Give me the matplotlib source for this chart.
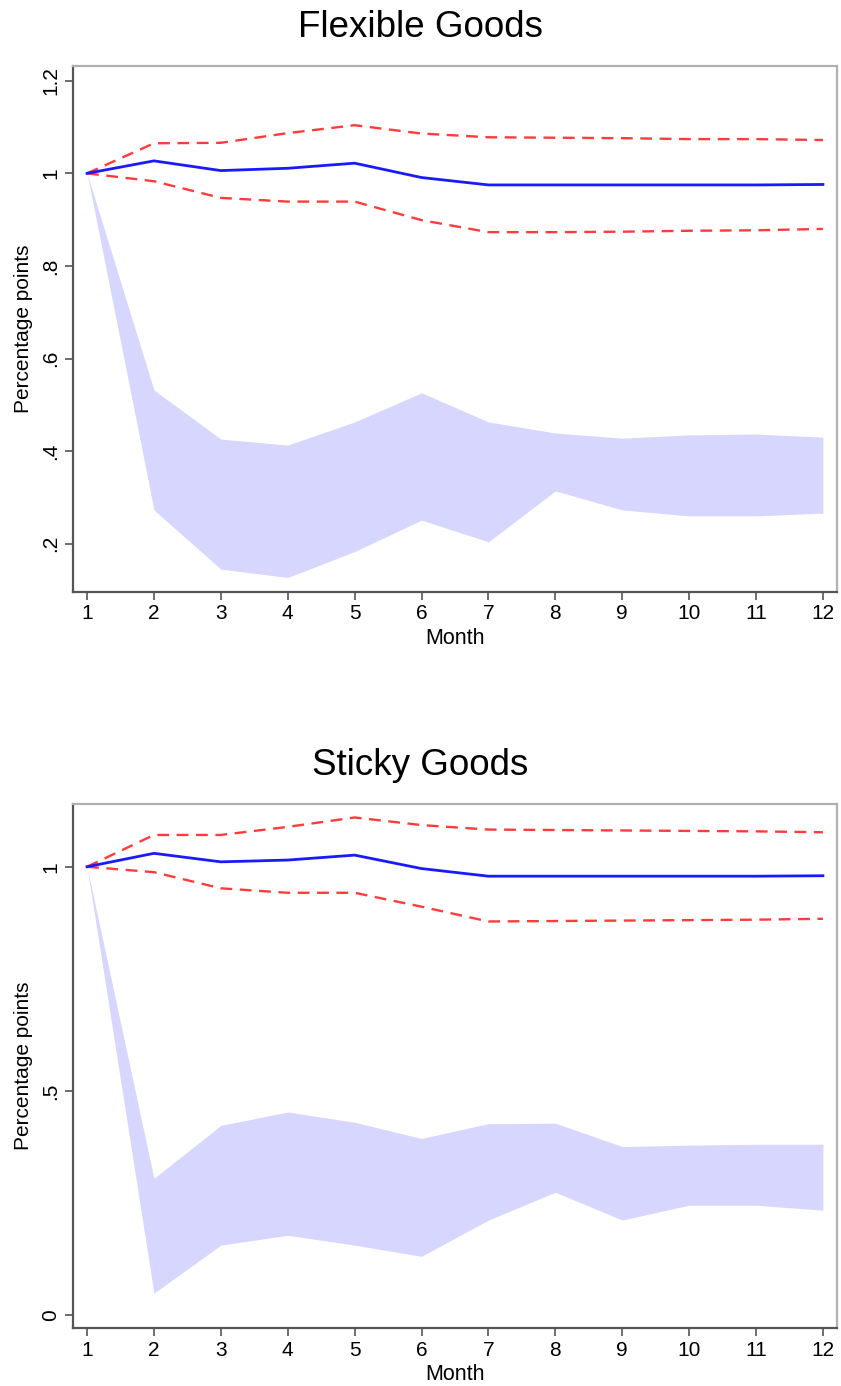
import numpy as np
import matplotlib
matplotlib.use("Agg")
import matplotlib.pyplot as plt

plt.rcParams['font.family'] = ['Liberation Sans', 'DejaVu Sans']

months = [1, 2, 3, 4, 5, 6, 7, 8, 9, 10, 11, 12]

# Flexible goods
flex_irf = [1.0, 1.027, 1.006, 1.011, 1.022, 0.991, 0.975, 0.975, 0.975, 0.975, 0.975, 0.976]
flex_hi = [1.0, 1.065, 1.066, 1.087, 1.104, 1.086, 1.078, 1.077, 1.076, 1.074, 1.074, 1.072]
flex_lo = [1.0, 0.983, 0.947, 0.939, 0.939, 0.899, 0.873, 0.873, 0.874, 0.876, 0.877, 0.880]
flex_band_hi = [1.0, 0.532, 0.426, 0.413, 0.463, 0.526, 0.463, 0.439, 0.428, 0.435, 0.437, 0.430]
flex_band_lo = [1.0, 0.273, 0.145, 0.127, 0.183, 0.251, 0.204, 0.314, 0.273, 0.260, 0.260, 0.266]

# Sticky goods
sticky_irf = [1.0, 1.030, 1.011, 1.015, 1.026, 0.996, 0.979, 0.979, 0.979, 0.979, 0.979, 0.980]
sticky_hi = [1.0, 1.071, 1.071, 1.089, 1.110, 1.093, 1.083, 1.082, 1.081, 1.080, 1.079, 1.077]
sticky_lo = [1.0, 0.988, 0.952, 0.942, 0.942, 0.911, 0.878, 0.879, 0.880, 0.881, 0.882, 0.884]
sticky_band_hi = [1.0, 0.305, 0.423, 0.453, 0.430, 0.394, 0.427, 0.428, 0.376, 0.379, 0.381, 0.381]
sticky_band_lo = [1.0, 0.049, 0.156, 0.178, 0.156, 0.131, 0.212, 0.274, 0.212, 0.245, 0.245, 0.234]

flex_ticks = [0.2, 0.4, 0.6, 0.8, 1.0, 1.2]
flex_ticklabels = ['.2', '.4', '.6', '.8', '1', '1.2']
sticky_ticks = [0, 0.5, 1.0]
sticky_ticklabels = ['0', '.5', '1']

fig = plt.figure(figsize=(8.41, 13.86), dpi=100)
ax1 = fig.add_axes([0.0868, 0.5729, 0.9084, 0.3795])
ax2 = fig.add_axes([0.0868, 0.0418, 0.9084, 0.3781])


def draw(ax, title, irf, hi, lo, bhi, blo, yt, ytl, ylim):
    ax.fill_between(months, blo, bhi, color='#d6d6ff', lw=0)
    ax.plot(months, hi, color='#ff3b3b', lw=1.7, dashes=(5, 3.2))
    ax.plot(months, lo, color='#ff3b3b', lw=1.7, dashes=(5, 3.2))
    ax.plot(months, irf, color='#1a1aff', lw=2)
    ax.set_xlim(0.79, 12.21)
    ax.set_ylim(*ylim)
    ax.set_xticks(months)
    ax.set_yticks(yt)
    ax.set_yticklabels(ytl, rotation=90, va='center')
    ax.tick_params(direction='out', length=6, width=1.2, color='#555555',
                   labelsize=15, pad=3)
    ax.set_xlabel('Month', fontsize=15.5, labelpad=3)
    ax.set_ylabel('Percentage points', fontsize=15, labelpad=6)
    # title sits over the middle of the figure, not the axes
    ax.set_title(title, fontsize=26.5, pad=21, x=0.455)
    for s in ['left', 'bottom']:
        ax.spines[s].set_color('#555555')
        ax.spines[s].set_linewidth(1.6)
    for s in ['top', 'right']:
        ax.spines[s].set_color('#b0b0b0')
        ax.spines[s].set_linewidth(1.6)


draw(ax1, 'Flexible Goods', flex_irf, flex_hi, flex_lo, flex_band_hi, flex_band_lo,
     flex_ticks, flex_ticklabels, (0.0957, 1.232))
draw(ax2, 'Sticky Goods', sticky_irf, sticky_hi, sticky_lo, sticky_band_hi, sticky_band_lo,
     sticky_ticks, sticky_ticklabels, (-0.029, 1.14))

fig.savefig('out.png', dpi=100)
